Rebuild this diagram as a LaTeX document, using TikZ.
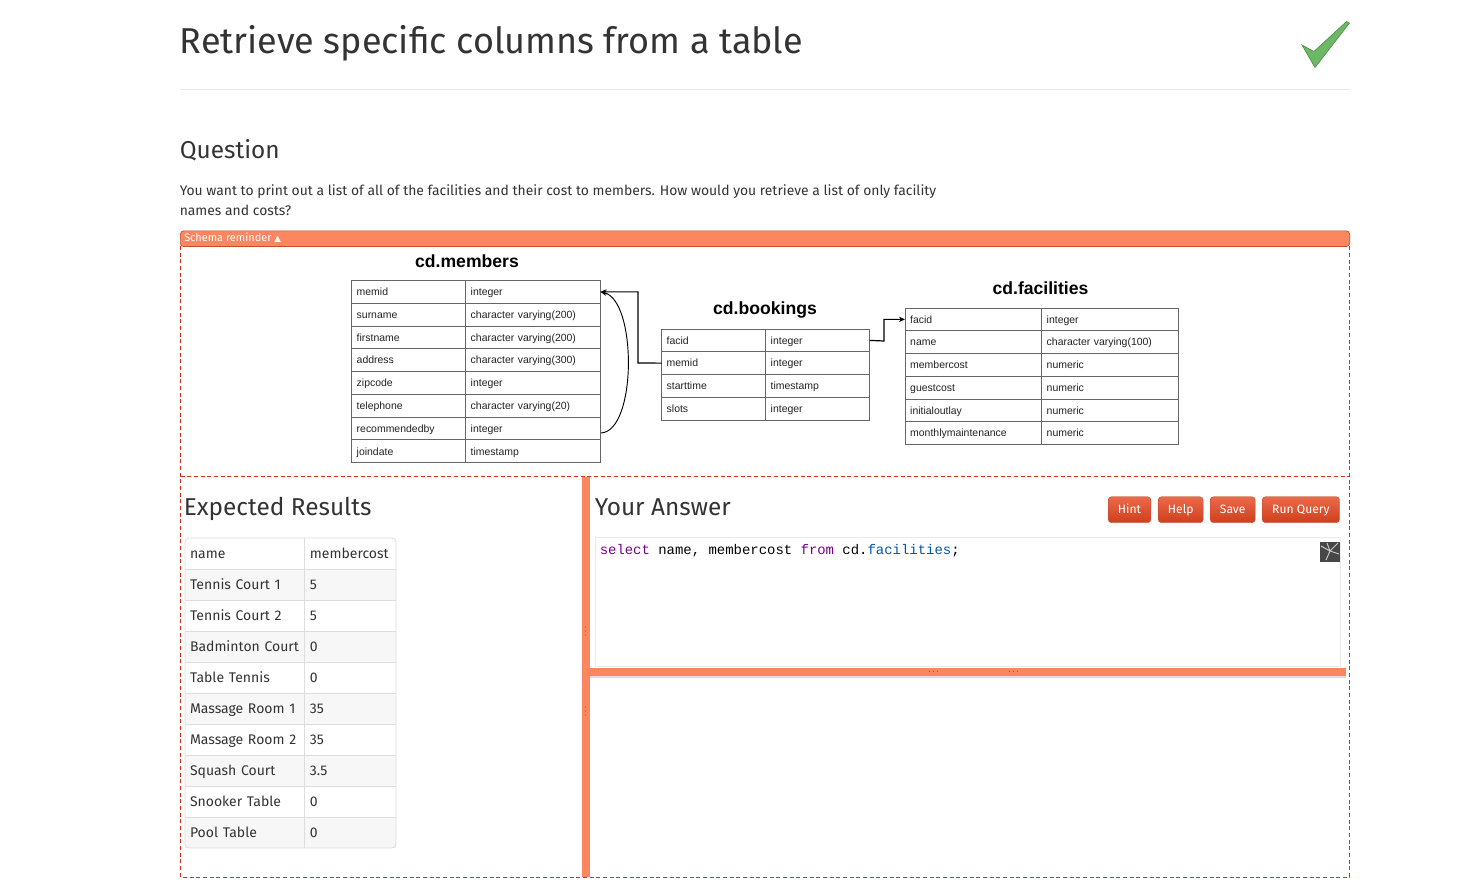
\documentclass[tikz,border=0pt]{standalone}
\usepackage{fontspec}
\setmainfont{Fira Sans}
\newfontfamily\erfont{Liberation Sans}
\newfontfamily\codefont{Liberation Mono}
\newfontfamily\symfont{DejaVu Sans}
\usetikzlibrary{arrows.meta}
\definecolor{Ink}{HTML}{333333}
\definecolor{Salmon}{HTML}{FC8660}
\definecolor{SalmonDark}{HTML}{C24E2E}
\definecolor{DashRed}{HTML}{D9301E}
\definecolor{RuleGray}{HTML}{DDDDDD}
\definecolor{RowShade}{HTML}{F7F7F7}
\definecolor{ErLine}{HTML}{666666}
\definecolor{ErText}{HTML}{222222}
\definecolor{BtnTop}{HTML}{EA6A4C}
\definecolor{BtnBottom}{HTML}{CF3F1C}
\definecolor{CheckGreen}{HTML}{6CB866}
\definecolor{CheckEdge}{HTML}{4E8F4B}
\definecolor{KeyPurple}{HTML}{770088}
\definecolor{DefBlue}{HTML}{0055AA}
\tikzset{
    ercell/.style={draw=ErLine, line width=0.6pt, anchor=north west, inner ysep=0pt, inner xsep=3.9pt,
        outer sep=0pt, minimum height=17.06pt, text height=6.7pt, text depth=0.9pt, align=left,
        text=ErText, font=\erfont\fontsize{7.85}{9}\selectfont},
    ertitle/.style={anchor=center, text=black, inner sep=0pt, font=\erfont\bfseries\fontsize{13.2}{15}\selectfont},
    rescell/.style={anchor=north west, inner ysep=0pt, inner xsep=3.75pt, outer sep=0pt, minimum height=23.25pt,
        text height=8.6pt, text depth=1.8pt, align=left, text=Ink, font=\fontsize{10.5}{13}\selectfont},
    heading/.style={anchor=base west, inner sep=0pt, text=Ink, font=\fontsize{18.3}{22}\selectfont},
    btn/.style={anchor=north west, inner sep=0pt, minimum height=19.5pt, rounded corners=2.5pt, draw=SalmonDark,
        line width=0.3pt, top color=BtnTop, bottom color=BtnBottom, text=white, text height=7pt, text depth=1.8pt,
        font=\fontsize{9.1}{11}\selectfont},
    handle/.style={fill=SalmonDark, draw=none},
    relation/.style={line width=0.9pt, black, -{Stealth[length=4.5pt,width=4pt]}},
}
\begin{document}
\begin{tikzpicture}[x=0.75pt,y=-0.75pt]
    \useasboundingbox (0,0) rectangle (1475,883);
    % Page heading
    \node[anchor=base west, inner sep=0pt, text=Ink, font=\fontsize{27}{32}\selectfont] (pagetitle) at (179.5,53) {Retrieve specific columns from a table};
    \draw[RuleGray!60, line width=0.6pt] (180,89.5) -- (1350,89.5);
    \filldraw[fill=CheckGreen, draw=CheckEdge, line width=0.5pt] (1302,45) -- (1314,51.5) -- (1346.5,21.5) -- (1349.5,23) -- (1315,67.5) -- cycle;
    % Question
    \node[heading] (question) at (179.5,158) {Question};
    \node[anchor=north west, inner sep=0pt, align=left, text=Ink, font=\fontsize{10.43}{15}\selectfont] (questiontext) at (179.5,184)
        {You want to print out a list of all of the facilities and their cost to members. How would you retrieve a list of only facility\\names and costs?};
    % Dashed panels
    \draw[DashRed, densely dashed, line width=0.6pt] (180.5,246) rectangle (1349.5,877);
    \draw[DashRed, densely dashed, line width=0.6pt] (180.5,476.5) -- (1349.5,476.5);
    \node[anchor=north west, inner sep=0pt, minimum width=877pt, minimum height=11.8pt, rounded corners=2.5pt, fill=Salmon,
        draw=SalmonDark, line width=0.5pt] (schemabar) at (180,230.5) {};
    \node[anchor=west, inner sep=0pt, text=white, font=\fontsize{8.2}{10}\selectfont] (schemalabel) at (184,238) {Schema reminder {\symfont\fontsize{6.5}{8}\selectfont ▲}};
    % cd.members
    \node[ertitle] (memberstitle) at (467,261.5) {cd.members};
    \foreach \a/\b [count=\i] in {memid/integer, surname/character varying(200), firstname/character varying(200),
        address/character varying(300), zipcode/integer, telephone/character varying(20), recommendedby/integer, joindate/timestamp} {
        \node[ercell, text width=77.7pt] (mname\i) at (351.5,{280.5+22.75*(\i-1)}) {\a};
        \node[ercell, text width=93.45pt] (mtype\i) at (465.5,{280.5+22.75*(\i-1)}) {\b};
    }
    % cd.bookings
    \node[ertitle] (bookingstitle) at (765,309.5) {cd.bookings};
    \foreach \a/\b [count=\i] in {facid/integer, memid/integer, starttime/timestamp, slots/integer} {
        \node[ercell, text width=70.2pt] (bname\i) at (661.5,{329+22.75*(\i-1)}) {\a};
        \node[ercell, text width=70.2pt] (btype\i) at (765.5,{329+22.75*(\i-1)}) {\b};
    }
    % cd.facilities
    \node[ertitle] (facilitiestitle) at (1040.5,288.5) {cd.facilities};
    \foreach \a/\b [count=\i] in {facid/integer, name/character varying(100), membercost/numeric,
        guestcost/numeric, initialoutlay/numeric, monthlymaintenance/numeric} {
        \node[ercell, text width=94.6pt] (fname\i) at (905,{308+22.75*(\i-1)}) {\a};
        \node[ercell, text width=94.6pt] (ftype\i) at (1041.5,{308+22.75*(\i-1)}) {\b};
    }
    % Relations
    \coordinate (memberbend) at (638,363);
    \coordinate (facilitybend) at (884,341);
    \coordinate (selfstart) at (601,433);
    \draw[relation] (bname2.west) -- (memberbend) |- (mtype1.east);
    \draw[relation] (btype1.east) -- (facilitybend) |- (fname1.west);
    \draw[relation, line width=0.7pt] (selfstart) .. controls (637,431) and (637,300) .. (mtype1.east);
    % Expected results
    \node[heading] (expected) at (183.5,515) {Expected Results};
    \node[rescell, text width=81.75pt] (resname0) at (185,538) {name};
    \node[rescell, text width=61.5pt] (rescost0) at (304,538) {\hspace*{0.7pt}membercost};
    \foreach \a/\b/\c [count=\i] in {Tennis Court 1/5/RowShade, Tennis Court 2/5/white, Badminton Court/0/RowShade,
        Table Tennis/0/white, Massage Room 1/35/RowShade, Massage Room 2/35/white, Squash Court/3.5/RowShade,
        Snooker Table/0/white, Pool Table/0/RowShade} {
        \node[rescell, fill=\c, text width=81.75pt] (resname\i) at (185,{538+31*\i}) {\mbox{\a}};
        \node[rescell, fill=\c, text width=61.5pt] (rescost\i) at (304,{538+31*\i}) {\hspace*{0.7pt}\b};
        \draw[RuleGray, line width=0.6pt] (resname\i.north west) -- (rescost\i.north east);
    }
    \draw[RuleGray, line width=0.6pt] (resname0.north east) -- (resname9.south east);
    \draw[RuleGray, line width=0.6pt, rounded corners=3pt] (resname0.north west) rectangle (rescost9.south east);
    % Splitters
    \fill[Salmon] (582,477) rectangle (590,877);
    \fill[RuleGray] (590,676) rectangle (1346,678);
    \fill[Salmon] (590,668) rectangle (1346,676);
    \foreach \y in {627,631,635,707,711,715} { \fill[handle] (585.5,\y) circle (0.5pt); }
    \foreach \x in {929.5,933.5,937.5,1009.5,1013.5,1017.5} { \fill[handle] (\x,671.5) circle (0.5pt); }
    % Your answer
    \node[heading] (answer) at (594.5,515) {Your Answer};
    \node[btn, minimum width=32pt] (hintbtn) at (1108,496.5) {Hint};
    \node[btn, minimum width=33.75pt] (helpbtn) at (1158,496.5) {Help};
    \node[btn, minimum width=33.75pt] (savebtn) at (1210,496.5) {Save};
    \node[btn, minimum width=58pt] (runbtn) at (1262,496.5) {Run Query};
    \draw[RuleGray!60, line width=0.7pt] (595.5,537) rectangle (1340.5,666);
    \node[anchor=base west, inner sep=0pt, font=\codefont\fontsize{10.46}{12}\selectfont] (codeline) at (599.5,554)
        {\textcolor{KeyPurple}{select} name, membercost \textcolor{KeyPurple}{from} cd.\textcolor{DefBlue}{facilities};};
    \fill[black!72] (1320,542) rectangle (1340,562);
    \draw[white!80!black, line width=0.7pt] (1321,546) -- (1330,551) -- (1338,543) (1326,560) -- (1330,551) -- (1339,554) (1330,551) -- (1327,543);
\end{tikzpicture}
\end{document}
